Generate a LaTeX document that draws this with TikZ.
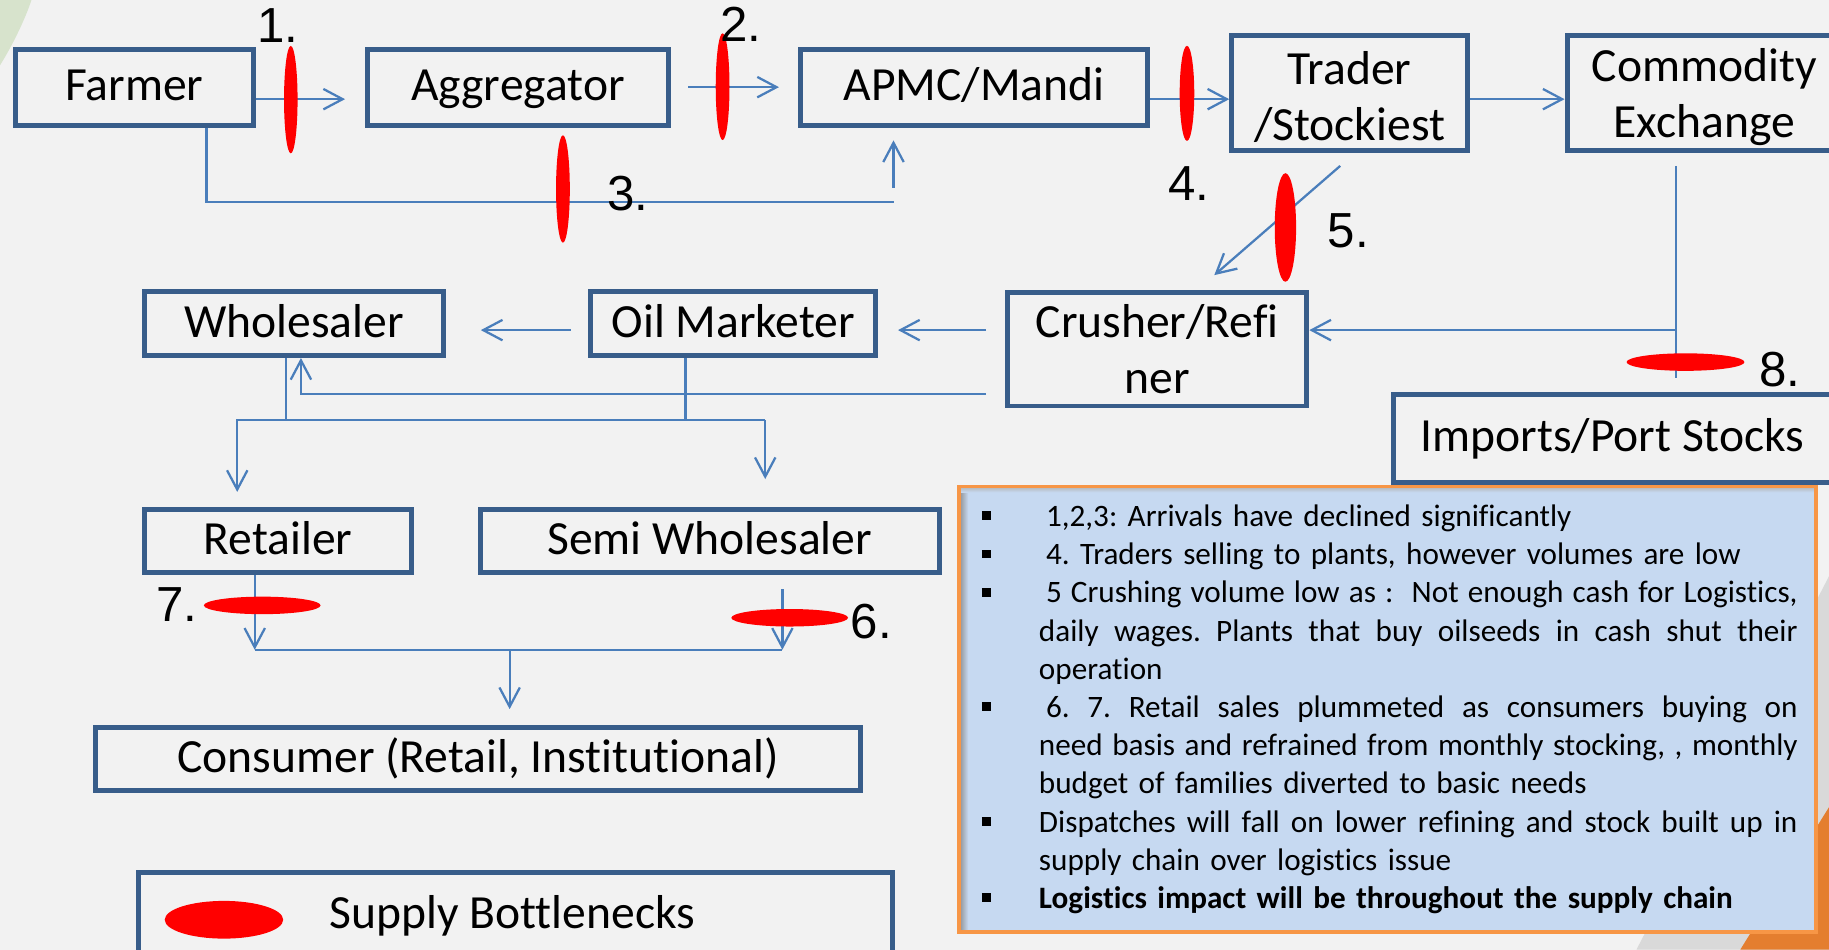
\documentclass[tikz,border=0pt]{standalone}
\usepackage{fontspec}
\setmainfont{Carlito}[Ligatures=NoCommon]
\newfontfamily\numfont{Liberation Sans}
\usetikzlibrary{shapes, arrows.meta}

\definecolor{slidebg}{HTML}{F2F2F2}
\definecolor{boxblue}{HTML}{385D8A}
\definecolor{lineblue}{HTML}{4A7EBB}
\definecolor{notefill}{HTML}{C6D9F1}
\definecolor{noteedge}{HTML}{F79646}
\definecolor{leafgreen}{HTML}{D7E3CC}
\definecolor{cornergray}{HTML}{D9D9D9}
\definecolor{cornerorange}{HTML}{E47E2F}

\newcommand\boxfont{\fontsize{11.6}{13.6}\selectfont}
\newcommand\notefont{\fontsize{7.6}{9.33}\selectfont\frenchspacing\hyphenpenalty=10000\exhyphenpenalty=10000}
\newcommand\noteitem[2][0.6mm]{\noindent\makebox[4.9mm][l]{\rule{0pt}{7pt}\raisebox{0.55mm}{\rule{0.78mm}{0.75mm}}}\parbox[t]{6.5cm}{\hspace*{#1}#2}\par}
\newcommand\jline[1]{{\spaceskip=1.72pt plus 4pt minus 0.8pt\relax\xspaceskip=\spaceskip\makebox[6.5cm][s]{#1}}\newline}

\tikzset{
  flow/.style={draw=lineblue, line width=0.55pt},
  arr/.style={flow, -{Straight Barb[length=1.65mm, width=1.75mm]}},
  neck/.style={ellipse, fill=red, inner sep=0pt, draw=none},
  num/.style={font=\numfont\fontsize{12}{12}\selectfont, inner sep=0pt},
  oneline/.style={text height=0.85em, text depth=0.2em},
}

\begin{document}
\begin{tikzpicture}[x=0.01cm, y=-0.01cm]
  \useasboundingbox (0,0) rectangle (1568,814);
  \clip (0,0) rectangle (1568,814);
  % slide background
  \fill[slidebg] (0,0) rectangle (1568,814);
  \fill[leafgreen] (0,0) -- (27,0) .. controls (21,18) and (10,40) .. (0,56) -- cycle;
  \fill[cornergray] (1403,814) -- (1568,494) -- (1568,814) -- cycle;
  \fill[cornerorange] (1492,814) -- (1568,692) -- (1568,814) -- cycle;

  % notes panel
  \fill[notefill] (822,417) rectangle (1557,799);
  \shade[left color=black!45, right color=notefill] (822,417) rectangle (830,799);
  \shade[top color=black!30, bottom color=notefill] (822,417) rectangle (1557,422);
  \draw[noteedge, line width=0.9pt] (822,417) rectangle (1557,799);
  \node[anchor=north west, inner sep=0pt, text width=6.99cm, font=\notefont] (NOTE) at (841,426) {%
    \noteitem{1,2,3: Arrivals have declined significantly}
    \noteitem{4. Traders selling to plants, however volumes are low}
    \noteitem[0pt]{\jline{\hspace*{0.6mm}5 Crushing volume low as :\ \ Not enough cash for Logistics,}\jline{daily wages. Plants that buy oilseeds in cash shut their}operation}
    \noteitem[0pt]{\jline{\hspace*{0.6mm}6. 7. Retail sales plummeted as consumers buying on}\jline{need basis and refrained from monthly stocking, , monthly}budget of families diverted to basic needs}
    \noteitem[0pt]{\jline{Dispatches will fall on lower refining and stock built up in}supply chain over logistics issue}
    \noteitem[0pt]{\bfseries Logistics impact will be throughout the supply chain}};

  % supply chain stages
  \begin{scope}[every node/.style={draw=boxblue, line width=1.2pt, align=center, inner sep=0pt, font=\boxfont}]
    \node[oneline, minimum width=2.04cm, minimum height=0.65cm] (FARM) at (115,74.7) {Farmer};
    \node[oneline, minimum width=2.58cm, minimum height=0.65cm] (AGGR) at (444,74.7) {Aggregator};
    \node[oneline, minimum width=2.98cm, minimum height=0.65cm] (APMC) at (835,74.7) {APMC/Mandi};
    \node[minimum width=2.02cm, minimum height=0.983cm] (TRAD) at (1157,79.9) {\rule{0pt}{3.5mm}Trader\\/Stockiest};
    \node[minimum width=2.35cm, minimum height=0.983cm] (COMX) at (1461,79.9) {\rule{0pt}{3.5mm}Commodity\\Exchange};
    \node[oneline, minimum width=2.56cm, minimum height=0.545cm] (WHOL) at (252,277.5) {Wholesaler};
    \node[oneline, minimum width=2.44cm, minimum height=0.545cm] (OILM) at (628.7,277.5) {Oil Marketer};
    \node[minimum width=2.566cm, minimum height=0.97cm] (CRUS) at (992,299.5) {Crusher/Refi\\ner};
    \node[oneline, minimum width=3.754cm, minimum height=0.753cm] (IMPO) at (1382.4,375.6) {Imports/Port Stocks};
    \node[oneline, minimum width=2.286cm, minimum height=0.541cm] (RETA) at (238.4,463.9) {Retailer};
    \node[oneline, minimum width=3.936cm, minimum height=0.541cm] (SEMI) at (608.5,463.9) {Semi Wholesaler};
    \node[oneline, minimum width=6.553cm, minimum height=0.535cm] (CONS) at (409.9,650.8) {Consumer (Retail, Institutional)};
    \node[minimum width=6.455cm, minimum height=0.919cm] (LEGD) at (442,794) {};
  \end{scope}

  % top row
  \draw[arr, shorten >=1.7mm] ([yshift=-1.03mm]FARM.east) -- ([yshift=-1.03mm]FARM.east -| AGGR.west);
  \draw[arr, shorten <=1.5mm, shorten >=1.6mm] (AGGR.east) -- (APMC.west);
  \coordinate (LOOP) at (766,173);
  \draw[flow] ([xshift=6.2mm]FARM.south) |- (LOOP);
  \draw[arr, shorten <=1.2mm, shorten >=1.1mm] (LOOP) -- (LOOP |- APMC.south);
  \draw[arr] ([yshift=-1.03mm]APMC.east) -- ([yshift=-1.03mm]APMC.east -| TRAD.west);
  \draw[arr] ([yshift=-0.51mm]TRAD.east) -- ([yshift=-0.51mm]COMX.west);
  \draw[arr] ([xshift=-0.8mm, yshift=-1.1mm]TRAD.south) -- ([xshift=4.9mm, yshift=1.3mm]CRUS.north);

  % into and out of the crusher
  \coordinate (FEED) at (1437,283);
  \draw[flow, shorten <=1.1mm, shorten >=1.2mm] (FEED |- COMX.south) -- (FEED |- IMPO.north);
  \draw[arr] (FEED) -- (FEED -| CRUS.east);
  \draw[arr, shorten <=1.6mm, shorten >=1.7mm] (FEED -| CRUS.west) -- (FEED -| OILM.east);
  \draw[arr, shorten <=1.5mm, shorten >=3mm] (FEED -| OILM.west) -- (FEED -| WHOL.east);
  \coordinate (BACK) at (258,337.7);
  \draw[arr, shorten <=1.6mm] (BACK -| CRUS.west) -| (BACK |- WHOL.south);

  % down to retail
  \coordinate (SPLIT) at (0,360);
  \draw[flow] ([xshift=-0.7mm]WHOL.south) -- ([xshift=-0.7mm]WHOL.south |- SPLIT);
  \draw[flow] ([xshift=-4.1mm]OILM.south) -- ([xshift=-4.1mm]OILM.south |- SPLIT);
  \draw[arr, shorten >=1.3mm] ([xshift=4.75mm]SEMI.north |- SPLIT) -| ([xshift=-3.5mm]RETA.north);
  \draw[arr, shorten >=2.4mm] ([xshift=4.75mm]SEMI.north |- SPLIT) -- ([xshift=4.75mm]SEMI.north);
  \coordinate (MERGE) at (0,557);
  \draw[flow] ([xshift=-2mm]RETA.south |- MERGE) -- ([xshift=6.22mm]SEMI.south |- MERGE);
  \draw[arr] ([xshift=-2mm]RETA.south) -- ([xshift=-2mm]RETA.south |- MERGE);
  \draw[arr, shorten <=1.2mm] ([xshift=6.22mm]SEMI.south) -- ([xshift=6.22mm]SEMI.south |- MERGE);
  \draw[arr, shorten >=1.4mm] ([xshift=2.7mm]CONS.north |- MERGE) -- ([xshift=2.7mm]CONS.north);

  % bottlenecks
  \node[neck, minimum width=0.116cm, minimum height=0.92cm] (B1) at (249.3,85.4) {};
  \node[neck, minimum width=0.118cm, minimum height=0.915cm] (B2) at (619.5,74.3) {};
  \node[neck, minimum width=0.118cm, minimum height=0.92cm] (B3) at (482.6,162) {};
  \node[neck, minimum width=0.125cm, minimum height=0.815cm] (B4) at (1017.6,80) {};
  \node[neck, minimum width=0.183cm, minimum height=0.93cm] (B5) at (1102,195) {};
  \node[neck, minimum width=1cm, minimum height=0.15cm] (B6) at (677,529.6) {};
  \node[neck, minimum width=1cm, minimum height=0.15cm] (B7) at (224.8,519) {};
  \node[neck, minimum width=1.01cm, minimum height=0.15cm] (B8) at (1445,310.4) {};
  \node[num] (L1) at (238,21.5) {1.};
  \node[num] (L2) at (635,21) {2.};
  \node[num] (L3) at (538,166) {3.};
  \node[num] (L4) at (1019,157) {4.};
  \node[num] (L5) at (1156,198) {5.};
  \node[num] (L6) at (747,533) {6.};
  \node[num] (L7) at (151.6,518.5) {7.};
  \node[num] (L8) at (1526,317) {8.};

  % legend
  \node[neck, minimum width=1.015cm, minimum height=0.323cm] (KEY) at (192,788.5) {};
  \node[anchor=base west, inner sep=0pt, font=\boxfont] (KEYTXT) at (282,795.8) {Supply Bottlenecks};
\end{tikzpicture}
\end{document}
